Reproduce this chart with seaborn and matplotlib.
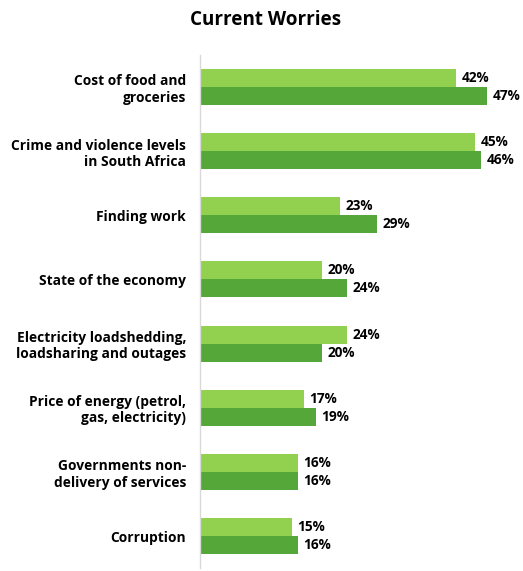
import pandas as pd
import matplotlib.pyplot as plt
import seaborn as sns

# ---------------------------------------------------------
# Data: current worries, two survey waves
# ---------------------------------------------------------
categories = [
    "Cost of food and\ngroceries",
    "Crime and violence levels\nin South Africa",
    "Finding work",
    "State of the economy",
    "Electricity loadshedding,\nloadsharing and outages",
    "Price of energy (petrol,\ngas, electricity)",
    "Governments non-\ndelivery of services",
    "Corruption",
]
wave_1 = [42, 45, 23, 20, 24, 17, 16, 15]
wave_2 = [47, 46, 29, 24, 20, 19, 16, 16]
series_names = ["Wave 1", "Wave 2"]
colors = ["#92D050", "#56A73A"]

df = pd.DataFrame({
    "worry": categories * 2,
    "pct": wave_1 + wave_2,
    "series": [series_names[0]] * len(categories) + [series_names[1]] * len(categories),
})

sns.set_theme(style="white")
plt.rcParams["font.family"] = ["Open Sans", "DejaVu Sans"]

fig = plt.figure(figsize=(5.23, 5.71), dpi=100)
ax = fig.add_axes([0.3824, 0.005, 0.607, 0.899])

sns.barplot(data=df, y="worry", x="pct", hue="series", orient="h",
            palette=colors, width=0.56, saturation=1, legend=False,
            linewidth=0, ax=ax)

for cont in ax.containers:
    ax.bar_label(cont, fmt="%d%%", padding=4, fontsize=9.8, fontweight="bold", color="black")

ax.set_xlim(0, 52)
ax.set_ylim(len(categories) - 0.5, -0.5)
ax.set_xlabel("")
ax.set_ylabel("")
ax.set_xticks([])
ax.tick_params(axis="y", length=0, pad=10, labelsize=9.9)
for lbl in ax.get_yticklabels():
    lbl.set_fontweight("bold")
    lbl.set_color("black")

for side in ["top", "right", "bottom"]:
    ax.spines[side].set_visible(False)
ax.spines["left"].set_color("#D9D9D9")
ax.spines["left"].set_linewidth(1)

fig.text(0.507, 0.965, "Current Worries", ha="center", va="center",
         fontsize=13.6, fontweight="bold", color="black")

fig.savefig("out.png", dpi=100)
plt.close(fig)
